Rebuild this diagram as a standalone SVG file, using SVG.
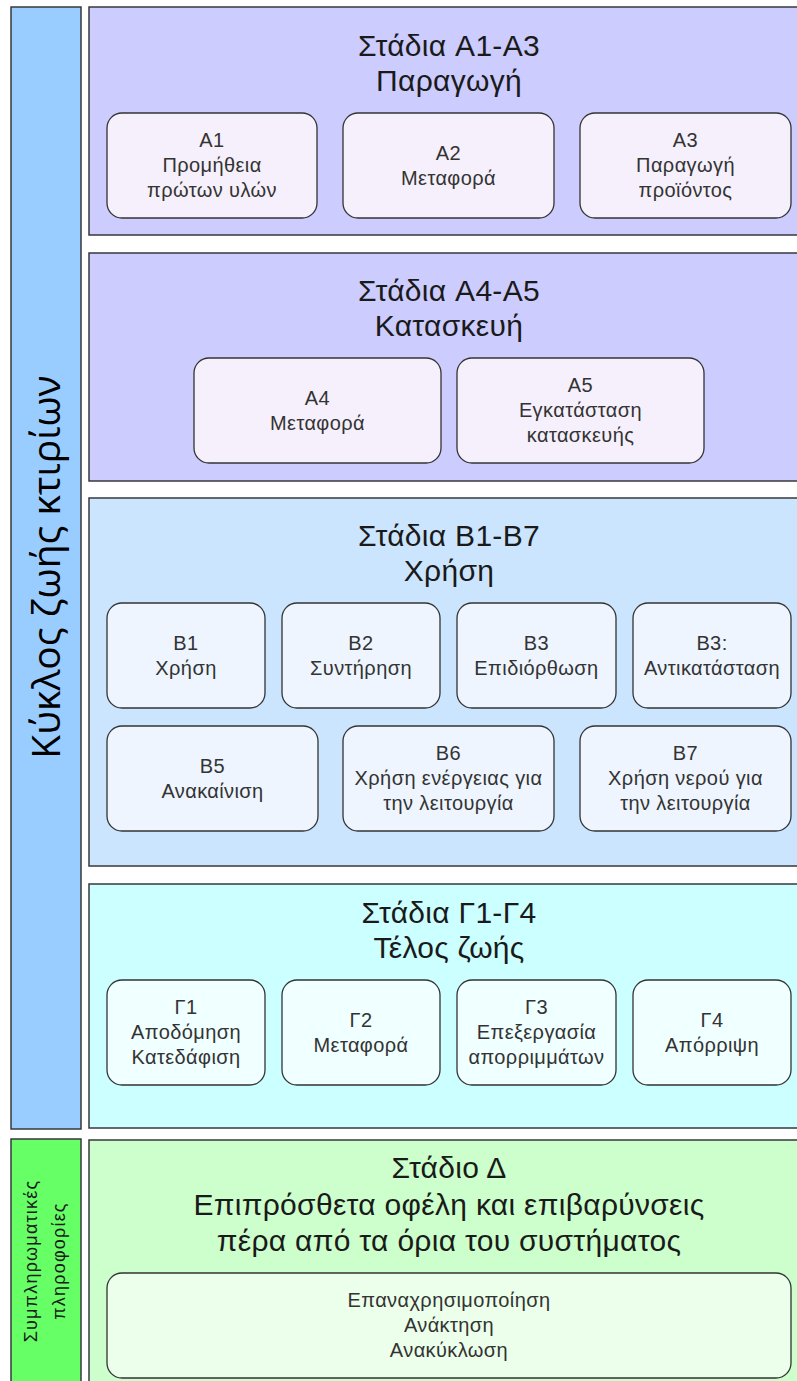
<svg xmlns="http://www.w3.org/2000/svg" width="797" height="1381" viewBox="0 0 797 1381">
<style>
.panel{stroke:#36393d;stroke-width:1.5}
.bar{stroke:#36393d;stroke-width:1.5}
.box{stroke:#333333;stroke-width:1.3}
.title{font-family:"Liberation Sans",Arial,sans-serif;font-size:30px;letter-spacing:0.3px;fill:#1a1a1a;text-anchor:middle}
.lbl{font-family:"Liberation Sans",Arial,sans-serif;font-size:20px;letter-spacing:0.4px;fill:#333333;text-anchor:middle}
.side{font-family:"Open Sans","Liberation Sans",sans-serif;font-size:39px;fill:#000000;text-anchor:middle}
.side2{font-family:"Liberation Sans",Arial,sans-serif;font-size:18px;letter-spacing:1.2px;fill:#1a1a1a;text-anchor:middle}
.fa{fill:#F5F0FB}.fb{fill:#EEF5FF}.fc{fill:#F0FFFF}.fd{fill:#EBFFEB}
</style>
<rect width="797" height="1381" fill="#ffffff"/>

<g id="side-lifecycle">
<rect class="bar" x="11" y="7" width="70" height="1122" fill="#99CCFF"/>
<text class="side" transform="translate(60,567) rotate(-90)">Κύκλος ζωής κτιρίων</text>
</g>
<g id="side-extra">
<rect class="bar" x="11" y="1139" width="70" height="260" fill="#66FF66"/>
<text class="side2" transform="translate(37,1261) rotate(-90)">Συμπληρωματικές</text>
<text class="side2" transform="translate(65,1261) rotate(-90)">πληροφορίες</text>
</g>

<g id="panel-A1A3">
<rect class="panel" x="89" y="7" width="730" height="228" fill="#CCCCFF"/>
<text class="title" x="449" y="56">Στάδια A1-A3</text>
<text class="title" x="449" y="91">Παραγωγή</text>
</g>
<g id="A1">
<rect class="box fa" x="107" y="113" width="210" height="105" rx="15"/>
<text class="lbl" x="212" y="147">A1</text>
<text class="lbl" x="212" y="172">Προμήθεια</text>
<text class="lbl" x="212" y="197">πρώτων υλών</text>
</g>
<g id="A2">
<rect class="box fa" x="343" y="113" width="211" height="105" rx="15"/>
<text class="lbl" x="448.5" y="160">A2</text>
<text class="lbl" x="448.5" y="185">Μεταφορά</text>
</g>
<g id="A3">
<rect class="box fa" x="580" y="113" width="211" height="105" rx="15"/>
<text class="lbl" x="685.5" y="147">A3</text>
<text class="lbl" x="685.5" y="172">Παραγωγή</text>
<text class="lbl" x="685.5" y="197">προϊόντος</text>
</g>

<g id="panel-A4A5">
<rect class="panel" x="89" y="253" width="730" height="228" fill="#CCCCFF"/>
<text class="title" x="449" y="301">Στάδια A4-A5</text>
<text class="title" x="449" y="336">Κατασκευή</text>
</g>
<g id="A4">
<rect class="box fa" x="194" y="358" width="247" height="105" rx="15"/>
<text class="lbl" x="317.5" y="405">A4</text>
<text class="lbl" x="317.5" y="430">Μεταφορά</text>
</g>
<g id="A5">
<rect class="box fa" x="457" y="358" width="247" height="105" rx="15"/>
<text class="lbl" x="580.5" y="392">A5</text>
<text class="lbl" x="580.5" y="417">Εγκατάσταση</text>
<text class="lbl" x="580.5" y="442">κατασκευής</text>
</g>

<g id="panel-B1B7">
<rect class="panel" x="89" y="498" width="730" height="368" fill="#CCE5FF"/>
<text class="title" x="449" y="546">Στάδια B1-B7</text>
<text class="title" x="449" y="581">Χρήση</text>
</g>
<g id="B1">
<rect class="box fb" x="107" y="603" width="158" height="105" rx="15"/>
<text class="lbl" x="186" y="650">B1</text>
<text class="lbl" x="186" y="675">Χρήση</text>
</g>
<g id="B2">
<rect class="box fb" x="282" y="603" width="158" height="105" rx="15"/>
<text class="lbl" x="361" y="650">B2</text>
<text class="lbl" x="361" y="675">Συντήρηση</text>
</g>
<g id="B3">
<rect class="box fb" x="457" y="603" width="159" height="105" rx="15"/>
<text class="lbl" x="536.5" y="650">B3</text>
<text class="lbl" x="536.5" y="675">Επιδιόρθωση</text>
</g>
<g id="B4">
<rect class="box fb" x="633" y="603" width="158" height="105" rx="15"/>
<text class="lbl" x="712" y="650">B3:</text>
<text class="lbl" x="712" y="675">Αντικατάσταση</text>
</g>
<g id="B5">
<rect class="box fb" x="107" y="726" width="211" height="105" rx="15"/>
<text class="lbl" x="212.5" y="773">B5</text>
<text class="lbl" x="212.5" y="798">Ανακαίνιση</text>
</g>
<g id="B6">
<rect class="box fb" x="343" y="726" width="211" height="105" rx="15"/>
<text class="lbl" x="448.5" y="760">B6</text>
<text class="lbl" x="448.5" y="785">Χρήση ενέργειας για</text>
<text class="lbl" x="448.5" y="810">την λειτουργία</text>
</g>
<g id="B7">
<rect class="box fb" x="580" y="726" width="211" height="105" rx="15"/>
<text class="lbl" x="685.5" y="760">B7</text>
<text class="lbl" x="685.5" y="785">Χρήση νερού για</text>
<text class="lbl" x="685.5" y="810">την λειτουργία</text>
</g>

<g id="panel-G1G4">
<rect class="panel" x="89" y="884" width="730" height="244" fill="#CCFFFF"/>
<text class="title" x="449" y="923">Στάδια Γ1-Γ4</text>
<text class="title" x="449" y="958">Τέλος ζωής</text>
</g>
<g id="G1">
<rect class="box fc" x="107" y="980" width="158" height="105" rx="15"/>
<text class="lbl" x="186" y="1014">Γ1</text>
<text class="lbl" x="186" y="1039">Αποδόμηση</text>
<text class="lbl" x="186" y="1064">Κατεδάφιση</text>
</g>
<g id="G2">
<rect class="box fc" x="282" y="980" width="158" height="105" rx="15"/>
<text class="lbl" x="361" y="1027">Γ2</text>
<text class="lbl" x="361" y="1052">Μεταφορά</text>
</g>
<g id="G3">
<rect class="box fc" x="457" y="980" width="159" height="105" rx="15"/>
<text class="lbl" x="536.5" y="1014">Γ3</text>
<text class="lbl" x="536.5" y="1039">Επεξεργασία</text>
<text class="lbl" x="536.5" y="1064">απορριμμάτων</text>
</g>
<g id="G4">
<rect class="box fc" x="633" y="980" width="158" height="105" rx="15"/>
<text class="lbl" x="712" y="1027">Γ4</text>
<text class="lbl" x="712" y="1052">Απόρριψη</text>
</g>

<g id="panel-D">
<rect class="panel" x="89" y="1140" width="730" height="260" fill="#CCFFCC"/>
<text class="title" x="449" y="1178">Στάδιο Δ</text>
<text class="title" x="449" y="1215">Επιπρόσθετα οφέλη και επιβαρύνσεις</text>
<text class="title" x="449" y="1251">πέρα από τα όρια του συστήματος</text>
</g>
<g id="D1">
<rect class="box fd" x="107" y="1273" width="684" height="105" rx="15"/>
<text class="lbl" x="449" y="1307">Επαναχρησιμοποίηση</text>
<text class="lbl" x="449" y="1332">Ανάκτηση</text>
<text class="lbl" x="449" y="1357">Ανακύκλωση</text>
</g>

<g id="connectors"></g>
</svg>
